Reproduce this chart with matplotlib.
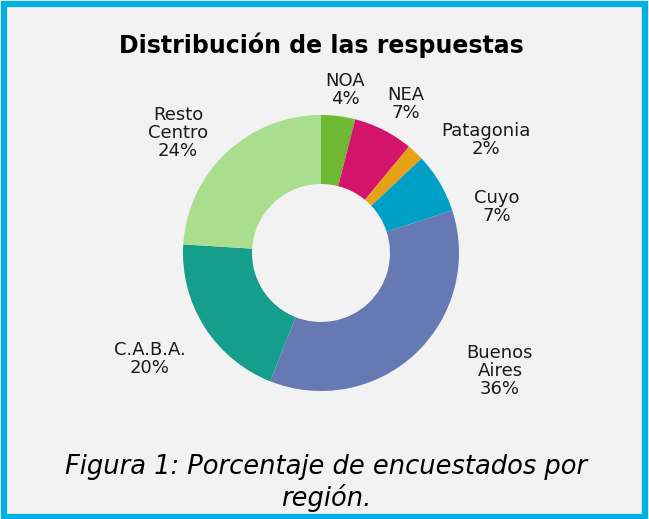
import matplotlib.pyplot as plt
from matplotlib.patches import Rectangle

regions = ["NOA", "NEA", "Patagonia", "Cuyo", "Buenos\nAires", "C.A.B.A.", "Resto\nCentro"]
shares = [4, 7, 2, 7, 36, 20, 24]
colors = ["#70b935", "#d4136b", "#e6a215", "#00a0c6", "#6679b3", "#169e8c", "#a9de8f"]

# label centres in pixel coords (y from top)
label_pos = [(345, 90), (406, 104), (486, 140), (497, 207), (500, 371), (150, 359), (178, 133)]

W, H = 649, 519
fig = plt.figure(figsize=(W / 100, H / 100), dpi=100)
fig.patch.set_facecolor("#f2f2f2")
ax = fig.add_axes([0, 0, 1, 1])

ax.pie(shares, colors=colors, startangle=90, counterclock=False,
       center=(321, H - 253), radius=138,
       wedgeprops=dict(width=69, linewidth=0), frame=True)
ax.set_xlim(0, W)
ax.set_ylim(0, H)
ax.set_aspect("equal")
ax.axis("off")

for name, val, (x, y) in zip(regions, shares, label_pos):
    ax.text(x, H - y, f"{name}\n{val}%", ha="center", va="center",
            fontsize=13, color="#1a1a1a", linespacing=1.0)

ax.text(321, H - 45, "Distribución de las respuestas", ha="center", va="center",
        fontsize=17, fontweight="bold", color="black")
ax.text(326, H - 483, "Figura 1: Porcentaje de encuestados por\nregión.", ha="center",
        va="center", fontsize=18.5, style="italic", color="black", linespacing=1.15)

ax.add_patch(Rectangle((4, 2), W - 8, H - 6, fill=False, edgecolor="#00b0e0",
                       linewidth=4.5, clip_on=False))

fig.savefig("out.png", dpi=100, facecolor=fig.get_facecolor())
